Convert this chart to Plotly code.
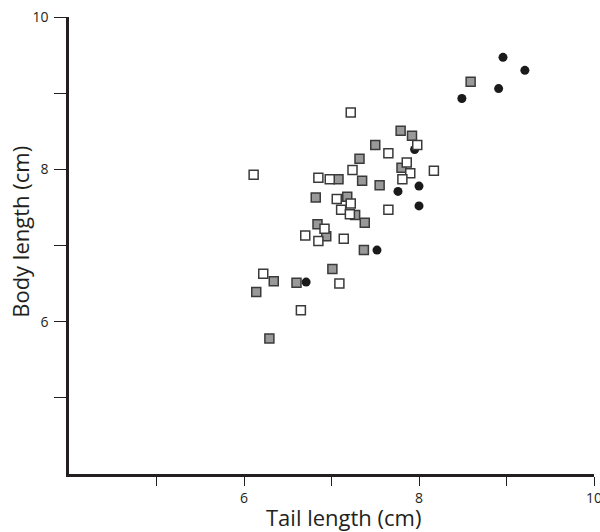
import plotly.graph_objects as go

# Open squares
open_x = [7.22, 7.98, 7.65, 7.24, 7.86, 7.90, 7.81, 8.17, 6.11, 6.85, 6.98, 7.06, 7.22, 7.11, 7.21,
          7.65, 6.92, 6.70, 6.85, 7.14, 6.22, 7.09, 6.65]
open_y = [8.745, 8.32, 8.21, 7.99, 8.09, 7.95, 7.87, 7.98, 7.93, 7.89, 7.87, 7.61, 7.55, 7.47, 7.41,
          7.47, 7.22, 7.13, 7.06, 7.09, 6.63, 6.50, 6.15]

# Gray squares
gray_x = [7.79, 7.92, 7.50, 7.32, 7.80, 7.08, 7.35, 7.55, 6.82, 7.18, 7.27, 7.38, 6.84, 6.94, 7.37,
          7.01, 6.34, 6.60, 6.14, 6.29, 8.59]
gray_y = [8.505, 8.44, 8.32, 8.14, 8.02, 7.87, 7.85, 7.79, 7.63, 7.64, 7.40, 7.30, 7.28, 7.12, 6.94,
          6.69, 6.53, 6.51, 6.39, 5.78, 9.15]

# Black circles
black_x = [7.95, 8.00, 7.76, 8.00, 7.52, 6.71, 8.96, 9.21, 8.91, 8.49]
black_y = [8.26, 7.78, 7.71, 7.52, 6.94, 6.52, 9.47, 9.30, 9.06, 8.93]

tick_vals = [5, 6, 7, 8, 9, 10]
tick_text = ["", "6", "", "8", "", "10"]

x_title = "Tail length (cm)"
y_title = "Body length (cm)"

fig = go.Figure()
fig.add_trace(go.Scatter(x=black_x, y=black_y, mode="markers",
                         marker=dict(symbol="circle", size=9, color="#1a1a1a",
                                     line=dict(width=0))))
fig.add_trace(go.Scatter(x=gray_x, y=gray_y, mode="markers",
                         marker=dict(symbol="square", size=9, color="#999999",
                                     line=dict(width=1.5, color="#3a3a3a"))))
fig.add_trace(go.Scatter(x=open_x, y=open_y, mode="markers",
                         marker=dict(symbol="square", size=9, color="white",
                                     line=dict(width=1.5, color="#3a3a3a"))))

font_family = "Open Sans, sans-serif"
axis_font = dict(family=font_family, size=14, color="#231f20")
title_font = dict(family=font_family, size=22, color="#231f20")

fig.update_layout(
    width=600, height=532,
    margin=dict(l=69, r=6, t=17, b=58),
    paper_bgcolor="white", plot_bgcolor="white",
    showlegend=False,
    xaxis=dict(range=[4, 10], showgrid=False, zeroline=False, showline=True, automargin=False,
               linecolor="#231f20", linewidth=2.5, ticks="outside", ticklen=9,
               tickwidth=1.2, tickcolor="#231f20", tickvals=tick_vals, ticktext=tick_text,
               tickfont=axis_font, ticklabeloverflow="allow", ticklabelstandoff=0),
    yaxis=dict(range=[4, 10], showgrid=False, zeroline=False, showline=True, automargin=False,
               linecolor="#231f20", linewidth=2.5, ticks="outside", ticklen=12,
               tickwidth=1.2, tickcolor="#231f20", tickvals=tick_vals, ticktext=tick_text,
               tickfont=axis_font, ticklabeloverflow="allow", ticklabelstandoff=3),
    annotations=[
        dict(text=x_title, xref="paper", yref="paper", x=0.5, y=0, xshift=12, yshift=-43,
             xanchor="center", yanchor="middle", showarrow=False, font=title_font),
        dict(text=y_title, xref="paper", yref="paper", x=0, y=0.53, xshift=-49,
             xanchor="center", yanchor="middle", textangle=-90, showarrow=False, font=title_font),
    ],
)

fig.write_html("out.html", config={"displayModeBar": False},
               post_script="document.body.style.margin='0';")
